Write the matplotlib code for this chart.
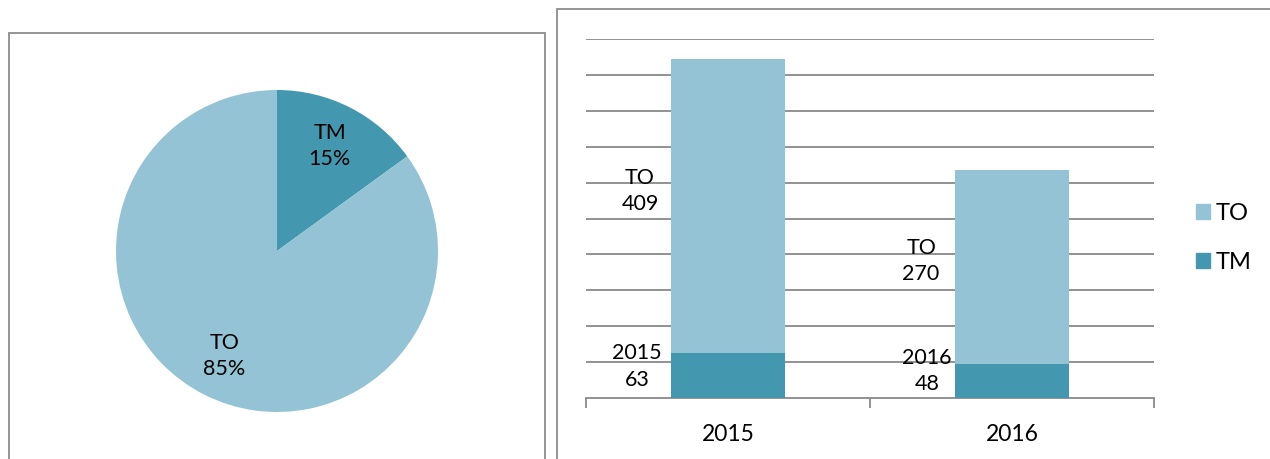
import matplotlib.pyplot as plt
from matplotlib.patches import Rectangle, Patch
import numpy as np

plt.rcParams['font.family'] = ['Lato', 'DejaVu Sans']

# Data
pie_names = ['TM', 'TO']
pie_shares = [15, 85]

years = ['2015', '2016']
tm_values = [63, 48]
to_values = [409, 270]
tm_label_tops = ['2015', '2016']   # first line of the TM data labels

light = '#93c3d4'
dark = '#4398b0'
grid_gray = '#898989'

fig = plt.figure(figsize=(12.7, 4.59), dpi=100)
W, H = 1270, 459

# panel borders
fig.patches.append(Rectangle((9 / W, -0.05), 536 / W, 1.05 - 33 / H, transform=fig.transFigure,
                             fill=False, edgecolor='#8c8c8c', linewidth=1.3))
fig.patches.append(Rectangle((557 / W, -0.05), 0.7, 1.05 - 9 / H, transform=fig.transFigure,
                             fill=False, edgecolor='#8c8c8c', linewidth=1.3))

# Pie
axp = fig.add_axes([116 / W, (H - 412) / H, 322 / W, 322 / H])
wedges, _ = axp.pie(pie_shares, colors=[dark, light], startangle=90, counterclock=False,
                    radius=1, wedgeprops=dict(linewidth=0))
for w, name, p in zip(wedges, pie_names, pie_shares):
    ang = np.deg2rad((w.theta1 + w.theta2) / 2)
    axp.text(0.72 * np.cos(ang), 0.73 * np.sin(ang), f'{name}\n{p}%', ha='center', va='center',
             fontsize=15.5, linespacing=1.4)
axp.set_xlim(-1, 1)
axp.set_ylim(-1, 1)
axp.set_aspect('equal')

# Stacked bars
ax = fig.add_axes([586 / W, (H - 398) / H, 568 / W, 359 / H])
x = np.arange(len(years))
ax.bar(x, tm_values, width=0.4, color=dark, zorder=3, label='TM')
ax.bar(x, to_values, width=0.4, bottom=tm_values, color=light, zorder=3, label='TO')

ax.set_xlim(-0.5, 1.5)
ax.set_ylim(0, 500)
ax.set_yticks(range(50, 501, 50))
ax.yaxis.grid(True, color=grid_gray, linewidth=1.3)
ax.tick_params(axis='y', left=False, labelleft=False)
for s in ['left', 'right', 'top']:
    ax.spines[s].set_visible(False)
ax.spines['bottom'].set_color(grid_gray)
ax.spines['bottom'].set_linewidth(1.3)

ax.set_xticks(x)
ax.set_xticklabels(years, fontsize=16.5)
ax.tick_params(axis='x', which='major', length=0, pad=19)
ax.set_xticks([-0.5, 0.5, 1.5], minor=True)
ax.tick_params(axis='x', which='minor', length=7.5, width=1.3, color=grid_gray)

# data labels (moved off the bars, like the original)
to_offsets = [(-0.31, 288), (-0.32, 191)]
tm_offsets = [(-0.32, 44), (-0.30, 38)]
for i in range(len(years)):
    dx, yy = to_offsets[i]
    ax.text(x[i] + dx, yy, f'TO\n{to_values[i]}', ha='center', va='center', fontsize=15.5,
            linespacing=1.4, zorder=4)
    dx, yy = tm_offsets[i]
    ax.text(x[i] + dx, yy, f'{tm_label_tops[i]}\n{tm_values[i]}', ha='center', va='center',
            fontsize=15.5, linespacing=1.4, zorder=4)

handles = [Patch(color=light, label='TO'), Patch(color=dark, label='TM')]
fig.legend(handles=handles, loc='center left', bbox_to_anchor=(1196 / W, (H - 238) / H),
           frameon=False, fontsize=17, handlelength=0.6, handleheight=0.6,
           handletextpad=0.25, labelspacing=1.2, borderpad=0, borderaxespad=0)

plt.savefig('out.png', dpi=100)
